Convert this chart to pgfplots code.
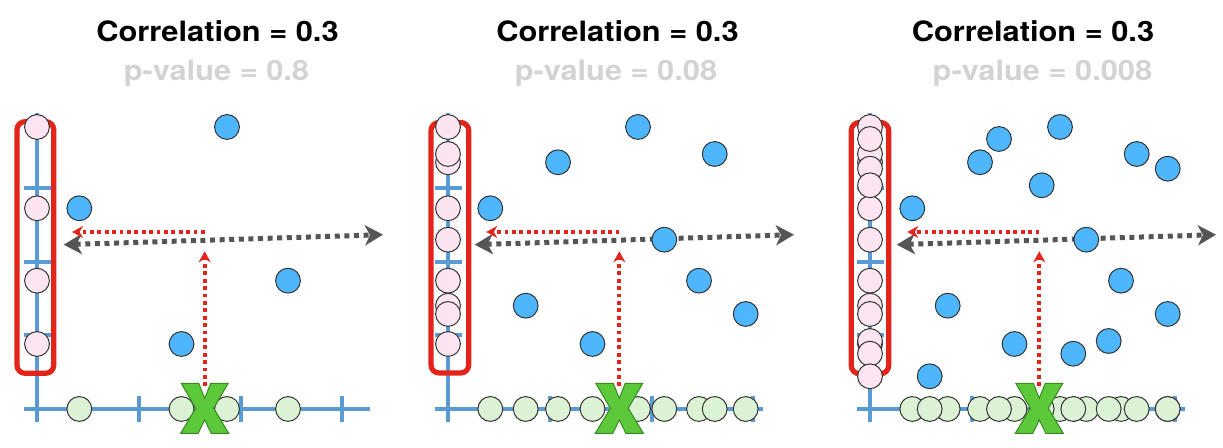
\documentclass[border=0pt]{standalone}
\usepackage{fontspec}
\usepackage{pgfplots}
\usepackage{pgfplotstable}
\pgfplotsset{compat=1.18}
\usetikzlibrary{arrows.meta}
\newfontfamily\heros[FakeStretch=1.1]{TeX Gyre Heros}

\definecolor{axblue}{HTML}{5A9BD5}
\definecolor{ptblue}{HTML}{4DB6FC}
\definecolor{ptpink}{HTML}{FCE4F0}
\definecolor{ptgreen}{HTML}{DCF2D4}
\definecolor{boxred}{HTML}{E3241B}
\definecolor{arrgray}{HTML}{555555}
\definecolor{xgreen}{HTML}{5CC93A}
\definecolor{xdark}{HTML}{3A8A22}
\definecolor{pgray}{HTML}{D3D3D3}

% points, in pixels from the origin of each panel
\pgfplotstableread{
x y
190 282
42.3 200.7
251 128.3
144.5 65
}\dataA
\pgfplotstableread{
x y
190 282
42.3 200.7
251 128.3
144.5 65
110 246.7
266.7 255
216.3 169.3
77.7 103.3
297.7 95
}\dataB
\pgfplotstableread{
x y
190 282
42.3 200.7
251 128.3
144.5 65
110 246.7
266.7 255
216.3 169.3
77.7 103.3
297.7 95
129 270
297.7 240.3
171.7 223.7
238.7 68
203.3 55.3
59.7 32.7
}\dataC

\pgfdeclareplotmark{bigx}{%
  \pgfpathmoveto{\pgfqpoint{-11.75pt}{12.5pt}}
  \pgfpathlineto{\pgfqpoint{-3pt}{12.5pt}}
  \pgfpathlineto{\pgfqpoint{0pt}{5pt}}
  \pgfpathlineto{\pgfqpoint{3pt}{12.5pt}}
  \pgfpathlineto{\pgfqpoint{11.75pt}{12.5pt}}
  \pgfpathlineto{\pgfqpoint{4.5pt}{0pt}}
  \pgfpathlineto{\pgfqpoint{12pt}{-12.5pt}}
  \pgfpathlineto{\pgfqpoint{3.25pt}{-12.5pt}}
  \pgfpathlineto{\pgfqpoint{0pt}{-5.8pt}}
  \pgfpathlineto{\pgfqpoint{-3.25pt}{-12.5pt}}
  \pgfpathlineto{\pgfqpoint{-12pt}{-12.5pt}}
  \pgfpathlineto{\pgfqpoint{-4.5pt}{0pt}}
  \pgfpathclose
  \pgfusepathqfillstroke}

\pgfplotsset{
  panel/.style={hide axis, clip=false, x=0.5pt, y=0.5pt,
    xmin=-30, xmax=360, ymin=-30, ymax=310, anchor=south west},
  dot/.style={only marks, mark=*, mark size=6.2pt,
    mark options={fill=#1, draw=black!80, line width=0.5pt}},
  axln/.style={axblue, line width=2pt},
  box/.style={boxred, line width=2.6pt, rounded corners=4pt},
  trend/.style={arrgray, line width=2.5pt, dash pattern=on 2.5pt off 2.3pt,
    {Stealth[length=9pt,width=10pt,inset=2.5pt]}-{Stealth[length=9pt,width=10pt,inset=2.5pt]}},
  guide/.style={boxred, line width=1.9pt, dash pattern=on 1.9pt off 1.8pt,
    -{Stealth[length=5.5pt,width=6pt]}},
  bigX/.style={only marks, mark=bigx, mark options={fill=xgreen, draw=xdark, line width=0.5pt}},
}

% axis lines and ticks, #1 = right end of the x axis
\newcommand{\axlines}[1]{%
  \addplot[axln] coordinates {(-12.7,0) (#1,0)};
  \addplot[axln] coordinates {(0,-13.3) (0,296)};
  \addplot[axln] coordinates {(102,-13.3) (102,13.3)};
  \addplot[axln] coordinates {(203.5,-13.3) (203.5,13.3)};
  \addplot[axln] coordinates {(305,-13.3) (305,13.3)};
  \addplot[axln] coordinates {(-13.3,73.5) (14,73.5)};
  \addplot[axln] coordinates {(-13.3,147) (14,147)};
  \addplot[axln] coordinates {(-13.3,221) (14,221)};
}

\begin{document}
\begin{tikzpicture}
\useasboundingbox (0pt,0pt) rectangle (611.5pt,224pt);

\begin{scope}[font=\heros\bfseries\fontsize{14pt}{16pt}\selectfont]
\node[anchor=base] at (108.75pt,203pt) {Correlation = 0.3};
\node[anchor=base, text=pgray] at (108.25pt,183.5pt) {p-value = 0.8};
\node[anchor=base] at (308.75pt,203pt) {Correlation = 0.3};
\node[anchor=base, text=pgray] at (308pt,183.5pt) {p-value = 0.08};
\node[anchor=base] at (516.5pt,203pt) {Correlation = 0.3};
\node[anchor=base, text=pgray] at (521.25pt,183.5pt) {p-value = 0.008};
\end{scope}

% panel 1
\begin{axis}[panel, at={(3.5pt,4.5pt)}]
\axlines{333}
\addplot[dot=ptgreen] table[x=x, y expr=0] {\dataA};
\addplot[dot=ptpink] table[x expr=0, y=y] {\dataA};
\addplot[dot=ptblue] table[x=x, y=y] {\dataA};
\addplot[box] coordinates {(-20,150) (-20,35.7) (16.7,35.7) (16.7,287.3) (-20,287.3) (-20,149)};
\addplot[trend] coordinates {(26.7,164.3) (346,174.3)};
\addplot[guide] coordinates {(167.7,22.7) (167.7,157.7)};
\addplot[guide] coordinates {(167.7,177) (35,177)};
\addplot[bigX] coordinates {(167.7,0.7)};
\end{axis}

% panel 2
\begin{axis}[panel, at={(209pt,4.5pt)}]
\axlines{315}
\addplot[dot=ptgreen] table[x=x, y expr=0] {\dataB};
\addplot[dot=ptpink] table[x expr=0, y=y] {\dataB};
\addplot[dot=ptblue] table[x=x, y=y] {\dataB};
\addplot[box] coordinates {(-17,150) (-17,36) (20.7,36) (20.7,286.5) (-17,286.5) (-17,149)};
\addplot[trend] coordinates {(26.7,164.3) (346,174.3)};
\addplot[guide] coordinates {(171.3,22.7) (171.3,157.7)};
\addplot[guide] coordinates {(171.3,177) (38.3,177)};
\addplot[bigX] coordinates {(171.3,0.7)};
\end{axis}

% panel 3
\begin{axis}[panel, at={(420pt,4.5pt)}]
\axlines{315}
\addplot[dot=ptgreen] table[x=x, y expr=0] {\dataC};
\addplot[dot=ptpink] table[x expr=0, y=y] {\dataC};
\addplot[dot=ptblue] table[x=x, y=y] {\dataC};
\addplot[box] coordinates {(-18.7,150) (-18.7,35.3) (18.7,35.3) (18.7,286.5) (-18.7,286.5) (-18.7,149)};
\addplot[trend] coordinates {(26.7,164.3) (346,174.3)};
\addplot[guide] coordinates {(169.3,22.7) (169.3,157.7)};
\addplot[guide] coordinates {(169.3,177) (37.3,177)};
\addplot[bigX] coordinates {(169.3,0.7)};
\end{axis}
\end{tikzpicture}
\end{document}
